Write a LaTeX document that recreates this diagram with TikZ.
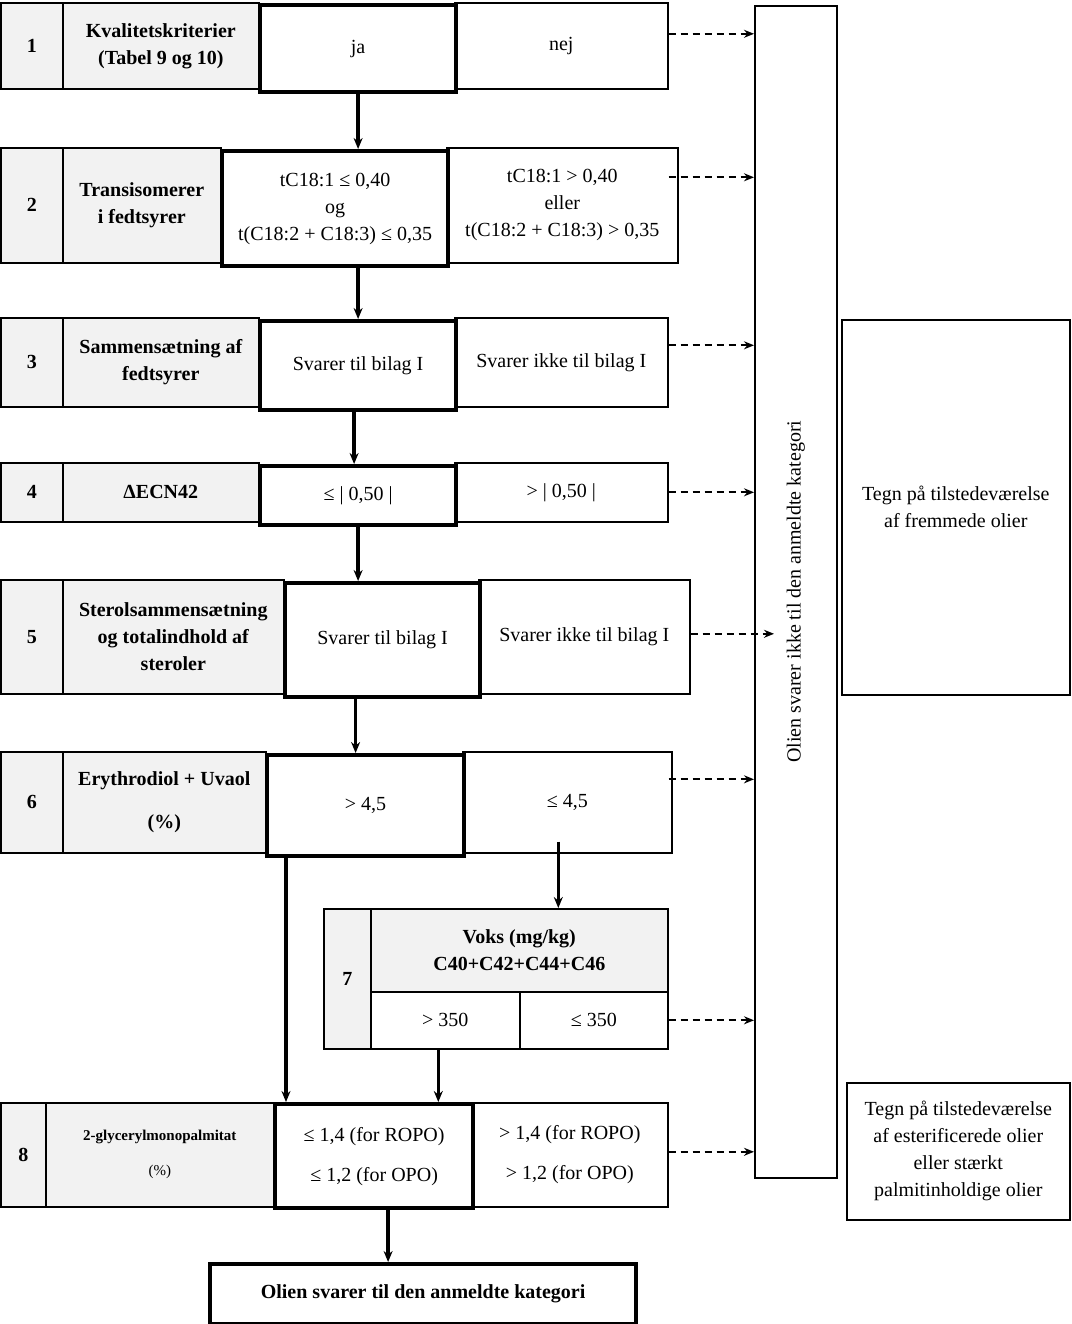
\documentclass[tikz,border=0pt]{standalone}
\usepackage{fontspec}
\setmainfont{Liberation Serif}
\usetikzlibrary{arrows.meta,positioning}
\definecolor{cellgray}{HTML}{F2F2F2}

\begin{document}
\begin{tikzpicture}[x=1pt, y=-1pt, >={Stealth[length=11pt,width=9pt]},
  font=\fontsize{20}{27}\selectfont,
  cell/.style={draw, line width=1.6pt, anchor=north west, align=center, inner sep=2pt},
  num/.style={cell, fill=cellgray, font=\fontsize{20}{27}\selectfont\bfseries},
  crit/.style={cell, fill=cellgray, font=\fontsize{20}{27}\selectfont\bfseries},
  pass/.style={cell, line width=4.2pt, fill=white},
  flow/.style={->, line width=3.5pt},
  fail/.style={-{Stealth[length=10pt,width=8pt]}, line width=1.8pt, dash pattern=on 7pt off 5pt}
]
\useasboundingbox (0,0) rectangle (1071,1324);
% right column
\node[cell, minimum width=82pt, minimum height=1172pt] (rot) at (754,5) {};
\node[rotate=90] (rottxt) at (rot.center) {Olien svarer ikke til den anmeldte kategori};
\node[cell, minimum width=228pt, minimum height=375pt] (tegn1) at (841,319) {Tegn på tilstedeværelse\\af fremmede olier};
\node[cell, minimum width=223pt, minimum height=137pt] (tegn2) at (846,1082) {Tegn på tilstedeværelse\\af esterificerede olier\\eller stærkt\\palmitinholdige olier};
% 1
\node[num, minimum width=62pt, minimum height=86pt] (n1) at (0,2) {1};
\node[crit, minimum width=196pt, minimum height=86pt] (l1) at (62,2) {Kvalitetskriterier\\(Tabel 9 og 10)};
\node[cell, minimum width=213pt, minimum height=86pt] (no1) at (454,2) {nej};
\node[pass, minimum width=196pt, minimum height=87pt] (y1) at (258,3) {ja};
% 2
\node[num, minimum width=62pt, minimum height=115pt] (n2) at (0,147) {2};
\node[crit, minimum width=158pt, minimum height=115pt] (l2) at (62,147) {Transisomerer\\i fedtsyrer};
\node[cell, minimum width=231pt, minimum height=115pt] (no2) at (446,147) {tC18:1 > 0,40\\eller\\t(C18:2 + C18:3) > 0,35};
\node[pass, minimum width=226pt, minimum height=115pt] (y2) at (220,149) {tC18:1 ≤ 0,40\\og\\t(C18:2 + C18:3) ≤ 0,35};
% 3
\node[num, minimum width=62pt, minimum height=89pt] (n3) at (0,317) {3};
\node[crit, minimum width=196pt, minimum height=89pt] (l3) at (62,317) {Sammensætning af\\fedtsyrer};
\node[cell, minimum width=213pt, minimum height=89pt] (no3) at (454,317) {Svarer ikke til bilag I};
\node[pass, minimum width=196pt, minimum height=89pt] (y3) at (258,319) {Svarer til bilag I};
% 4
\node[num, minimum width=62pt, minimum height=59pt] (n4) at (0,462) {4};
\node[crit, minimum width=196pt, minimum height=59pt] (l4) at (62,462) {ΔECN42};
\node[cell, minimum width=213pt, minimum height=59pt] (no4) at (454,462) {> | 0,50 |};
\node[pass, minimum width=196pt, minimum height=59pt] (y4) at (258,464) {≤ | 0,50 |};
% 5
\node[num, minimum width=62pt, minimum height=114pt] (n5) at (0,579) {5};
\node[crit, minimum width=221pt, minimum height=114pt] (l5) at (62,579) {Sterolsammensætning\\og totalindhold af\\steroler};
\node[cell, minimum width=211pt, minimum height=114pt] (no5) at (478,579) {Svarer ikke til bilag I};
\node[pass, minimum width=195pt, minimum height=114pt] (y5) at (283,581) {Svarer til bilag I};
% 6
\node[num, minimum width=62pt, minimum height=101pt] (n6) at (0,751) {6};
\node[crit, minimum width=203pt, minimum height=101pt] (l6) at (62,751) {Erythrodiol + Uvaol\\[16pt](\%)};
\node[cell, minimum width=209pt, minimum height=101pt] (no6) at (462,751) {≤ 4,5};
\node[pass, minimum width=197pt, minimum height=101pt] (y6) at (265,753) {> 4,5};
% 7
\node[num, minimum width=47pt, minimum height=140pt] (n7) at (323,908) {7};
\node[crit, minimum width=297pt, minimum height=83pt] (h7) at (370,908) {Voks (mg/kg)\\C40+C42+C44+C46};
\node[cell, minimum width=149pt, minimum height=57pt] (c7a) at (370,991) {> 350};
\node[cell, minimum width=148pt, minimum height=57pt] (c7b) at (519,991) {≤ 350};
% 8
\node[num, minimum width=45pt, minimum height=104pt] (n8) at (0,1102) {8};
\node[crit, minimum width=228pt, minimum height=104pt, font=\fontsize{15}{20}\selectfont\bfseries] (l8) at (45,1102) {2-glycerylmonopalmitat\\[15pt]{\mdseries(\%)}};
\node[cell, minimum width=196pt, minimum height=104pt] (no8) at (471,1102) {> 1,4 (for ROPO)\\[13pt]> 1,2 (for OPO)};
\node[pass, minimum width=198pt, minimum height=104pt] (y8) at (273,1102) {≤ 1,4 (for ROPO)\\[13pt]≤ 1,2 (for OPO)};
% result
\node[pass, minimum width=426pt, minimum height=60pt, font=\fontsize{20}{27}\selectfont\bfseries] (fin) at (208,1262) {Olien svarer til den anmeldte kategori};

% accepted path
\draw[flow] (y1.south) -- (y1.south |- y2.north);
\draw[flow] (y3.north |- y2.south) -- (y3.north);
\draw[flow] ([xshift=-4pt]y3.south) -- ([xshift=-4pt]y4.north);
\draw[flow] (y4.south) -- (y4.south |- y5.north);
\draw[flow] ([xshift=-10pt]y6.north |- y5.south) -- ([xshift=-10pt]y6.north);
\draw[flow] ([shift={(-9pt,12pt)}]no6.south) -- ([xshift=-9pt]no6.south |- h7.north);
\draw[flow] ([xshift=21pt]y6.south west) -- ([xshift=21pt]y6.south west |- y8.north);
\draw[flow] ([xshift=-7pt]c7a.south) -- ([xshift=-7pt]c7a.south |- y8.north);
\draw[flow] ([xshift=14pt]y8.south) -- ([xshift=14pt]y8.south |- fin.north);

% rejected
\coordinate (in5) at ([yshift=3pt]no5.east -| rot.west);
\draw[fail] ([yshift=12pt]no1.east) -- ([yshift=12pt]no1.east -| rot.west);
\draw[fail] ([shift={(-10pt,28pt)}]no2.east) -- ([yshift=28pt]no2.east -| rot.west);
\draw[fail] ([yshift=17pt]no3.east) -- ([yshift=17pt]no3.east -| rot.west);
\draw[fail] (no4.east) -- (no4.east -| rot.west);
\draw[fail] ([yshift=3pt]no5.east) -- ([xshift=20pt]in5);
\draw[fail] ([shift={(-4pt,23pt)}]no6.east) -- ([yshift=23pt]no6.east -| rot.west);
\draw[fail] (c7b.east) -- (c7b.east -| rot.west);
\draw[fail] ([yshift=3pt]no8.east) -- ([yshift=3pt]no8.east -| rot.west);
\end{tikzpicture}
\end{document}
